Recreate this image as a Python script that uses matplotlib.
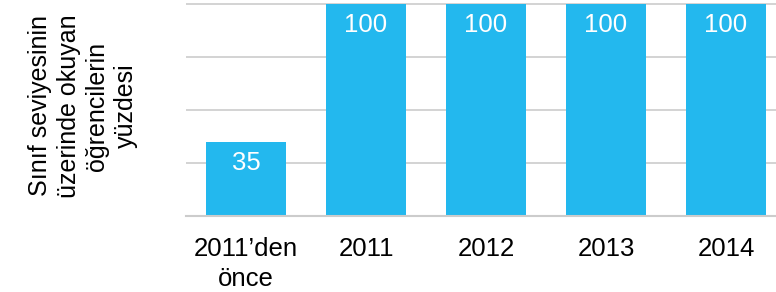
import matplotlib
matplotlib.use("Agg")
import matplotlib.pyplot as plt

categories = ["2011’den\nönce", "2011", "2012", "2013", "2014"]
values = [35, 100, 100, 100, 100]
y_ticks = [0, 25, 50, 75, 100]
y_label = "Sınıf seviyesinin\nüzerinde okuyan\nöğrencilerin\nyüzdesi"

plt.rcParams['font.family'] = ['Liberation Sans', 'DejaVu Sans']

W, H = 776, 292
fig = plt.figure(figsize=(W / 100, H / 100), dpi=100)
# axes box in pixels: left 186, right 776, top 2, bottom 216
ax = fig.add_axes([186 / W, (H - 216) / H, (776 - 186) / W, (216 - 2) / H])

x = range(len(categories))
bars = ax.bar(x, values, width=0.667, color='#23B8EE', zorder=2)

for b, v in zip(bars, values):
    ax.text(b.get_x() + b.get_width() / 2, v - 9.8, str(v), color='white',
            fontsize=18.5, ha='center', va='center', zorder=3)

ax.set_xlim(-0.5, 4.5 - 10 / 120)
ax.set_ylim(0, 100.8)
ax.set_yticks(y_ticks)
ax.set_yticklabels([])
ax.tick_params(axis='y', length=0)
ax.tick_params(axis='x', length=0, pad=15, labelsize=18.5)
ax.set_xticks(list(x))
ax.set_xticklabels(categories, linespacing=1.35)
ax.grid(axis='y', color='#cccccc', linewidth=1.2, zorder=0)

for s in ['top', 'right', 'left']:
    ax.spines[s].set_visible(False)
ax.spines['bottom'].set_color('#cccccc')
ax.spines['bottom'].set_linewidth(1.5)

fig.text(83 / W, 1 - 106 / H, y_label, rotation=90, ha='center', va='center',
         fontsize=18, linespacing=1.25, multialignment='center')

fig.savefig("out.png", dpi=100)
